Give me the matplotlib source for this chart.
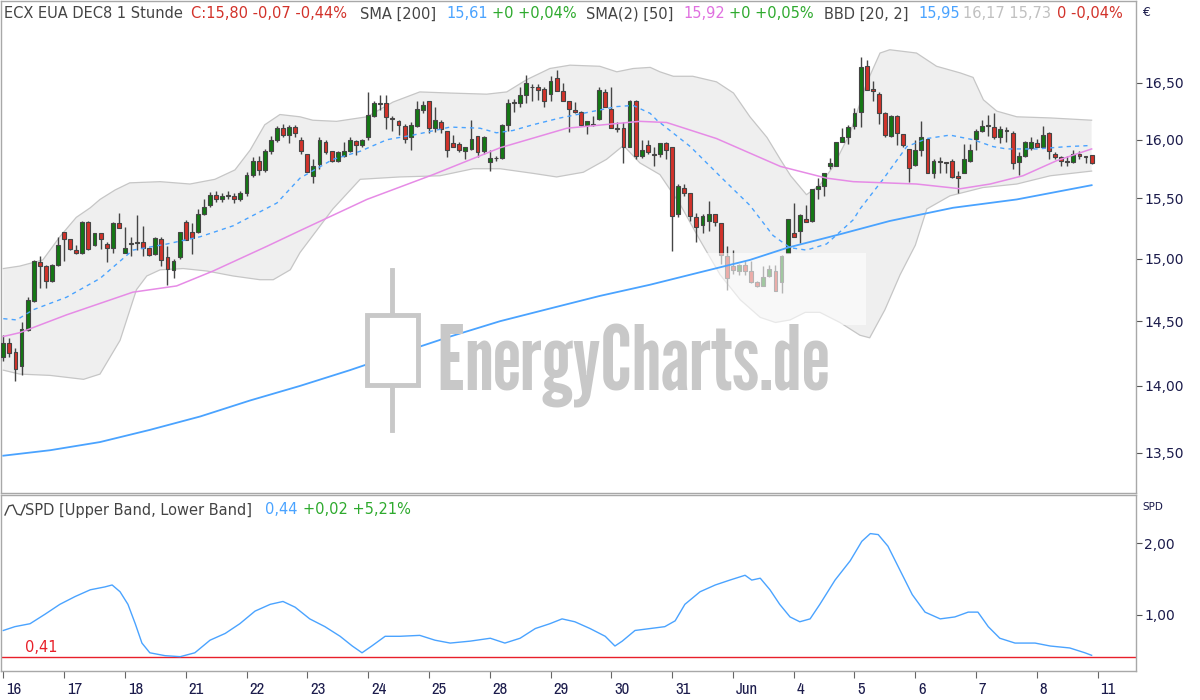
import numpy as np
import matplotlib
matplotlib.use('Agg')
import matplotlib.pyplot as plt
from matplotlib.transforms import ScaledTranslation
from matplotlib.patches import Rectangle
from matplotlib.lines import Line2D
from matplotlib.ticker import FixedLocator, NullLocator, FuncFormatter

# ---------------- data ----------------
day_labels = ['16', '17', '18', '21', '22', '23', '24', '25', '28', '29', '30', '31',
              'Jun', '4', '5', '6', '7', '8', '11']
bars_per_day = 10

opens = [14.22, 14.33, 14.26, 14.15, 14.43, 14.66, 14.97, 14.94, 14.82, 14.95,
         15.22, 15.16, 15.07, 15.05, 15.30, 15.11, 15.21, 15.12, 15.09, 15.29,
         15.05, 15.12, 15.13, 15.14, 15.09, 15.04, 15.16, 15.01, 14.91, 15.01,
         15.30, 15.22, 15.22, 15.37, 15.44, 15.53, 15.49, 15.52, 15.52, 15.49,
         15.54, 15.70, 15.82, 15.74, 15.90, 16.00, 16.10, 16.04, 16.11, 16.00,
         15.88, 15.69, 15.79, 15.98, 15.90, 15.82, 15.86, 15.90, 15.99, 15.95,
         16.02, 16.21, 16.31, 16.32, 16.19, 16.16, 16.12, 16.02, 16.12, 16.26,
         16.34, 16.10, 16.15, 16.08, 15.97, 15.96, 15.90, 15.92, 16.03, 15.90,
         15.81, 15.84, 15.84, 16.13, 16.32, 16.32, 16.39, 16.46, 16.46, 16.45,
         16.40, 16.54, 16.43, 16.34, 16.26, 16.24, 16.13, 16.13, 16.18, 16.42,
         16.27, 16.10, 16.10, 15.94, 16.34, 15.86, 15.95, 15.88, 15.88, 15.97,
         15.94, 15.37, 15.59, 15.54, 15.34, 15.28, 15.31, 15.37, 15.29, 15.02,
         14.94, 14.90, 14.95, 14.90, 14.81, 14.78, 14.86, 14.90, 14.81, 15.05,
         15.21, 15.23, 15.33, 15.31, 15.58, 15.60, 15.77, 15.77, 15.98, 16.02,
         16.12, 16.24, 16.65, 16.45, 16.40, 16.23, 16.03, 16.21, 16.05, 15.92,
         15.78, 15.91, 16.01, 15.71, 15.81, 15.81, 15.82, 15.69, 15.71, 15.82,
         16.01, 16.08, 16.12, 16.11, 16.02, 16.08, 16.06, 15.81, 15.86, 15.93,
         15.97, 15.94, 16.06, 15.88, 15.85, 15.82, 15.81, 15.88, 15.86, 15.87]
highs = [14.39, 14.37, 14.29, 14.49, 14.69, 14.99, 15.02, 14.95, 14.96, 15.18,
         15.22, 15.16, 15.11, 15.31, 15.31, 15.21, 15.21, 15.14, 15.30, 15.38,
         15.26, 15.18, 15.36, 15.27, 15.09, 15.18, 15.18, 15.10, 15.00, 15.22,
         15.32, 15.29, 15.41, 15.49, 15.55, 15.56, 15.54, 15.56, 15.54, 15.56,
         15.72, 15.85, 15.86, 15.92, 16.03, 16.12, 16.14, 16.13, 16.13, 16.02,
         15.88, 15.83, 16.02, 16.00, 15.90, 15.90, 15.98, 16.02, 16.00, 16.01,
         16.42, 16.34, 16.39, 16.39, 16.21, 16.17, 16.14, 16.15, 16.34, 16.34,
         16.34, 16.29, 16.17, 16.08, 16.04, 15.98, 15.94, 16.17, 16.03, 16.03,
         15.91, 15.86, 16.14, 16.36, 16.36, 16.46, 16.57, 16.49, 16.49, 16.46,
         16.56, 16.62, 16.50, 16.34, 16.33, 16.25, 16.16, 16.21, 16.46, 16.45,
         16.46, 16.15, 16.15, 16.35, 16.35, 16.00, 16.00, 15.94, 15.97, 15.98,
         15.94, 15.62, 15.62, 15.54, 15.38, 15.37, 15.48, 15.37, 15.29, 15.10,
         15.07, 14.96, 14.98, 14.98, 14.82, 14.94, 14.95, 14.95, 15.03, 15.33,
         15.46, 15.37, 15.44, 15.58, 15.67, 15.71, 15.84, 15.98, 16.10, 16.13,
         16.28, 16.73, 16.71, 16.52, 16.42, 16.24, 16.22, 16.22, 16.05, 15.92,
         16.00, 16.16, 16.01, 15.83, 15.85, 15.81, 15.83, 15.73, 15.96, 15.96,
         16.09, 16.17, 16.22, 16.23, 16.12, 16.11, 16.08, 15.89, 15.99, 16.02,
         16.01, 16.12, 16.07, 15.89, 15.86, 15.86, 15.91, 15.90, 15.86, 15.87]
lows = [14.19, 14.22, 14.04, 14.08, 14.42, 14.65, 14.76, 14.76, 14.81, 14.94,
        14.98, 15.07, 15.04, 15.04, 15.07, 15.10, 15.08, 14.97, 15.05, 15.25,
        15.05, 15.02, 15.07, 15.02, 15.02, 15.03, 14.94, 14.79, 14.84, 15.00,
        15.15, 15.04, 15.21, 15.36, 15.43, 15.47, 15.47, 15.49, 15.46, 15.48,
        15.52, 15.68, 15.70, 15.72, 15.88, 15.98, 16.02, 15.97, 16.02, 15.88,
        15.72, 15.63, 15.75, 15.88, 15.81, 15.81, 15.85, 15.89, 15.87, 15.94,
        16.00, 16.20, 16.26, 16.09, 16.08, 16.04, 15.97, 15.91, 16.11, 16.23,
        16.06, 16.07, 16.06, 15.85, 15.94, 15.89, 15.83, 15.91, 15.85, 15.88,
        15.73, 15.82, 15.83, 16.08, 16.24, 16.29, 16.32, 16.34, 16.35, 16.29,
        16.34, 16.43, 16.34, 16.07, 16.23, 16.12, 16.05, 16.12, 16.17, 16.29,
        16.10, 16.07, 15.80, 15.94, 15.83, 15.84, 15.88, 15.77, 15.85, 15.83,
        15.06, 15.34, 15.52, 15.31, 15.14, 15.21, 15.23, 15.27, 14.96, 14.75,
        14.88, 14.87, 14.87, 14.80, 14.77, 14.78, 14.85, 14.74, 14.72, 15.05,
        15.18, 15.13, 15.30, 15.30, 15.49, 15.52, 15.75, 15.77, 15.98, 15.96,
        16.09, 16.11, 16.44, 16.34, 16.14, 16.02, 16.02, 15.95, 15.94, 15.64,
        15.77, 15.86, 15.71, 15.67, 15.71, 15.71, 15.67, 15.54, 15.71, 15.81,
        15.91, 16.07, 16.03, 16.01, 15.97, 15.98, 15.75, 15.70, 15.85, 15.91,
        15.94, 15.94, 15.83, 15.83, 15.77, 15.77, 15.80, 15.83, 15.80, 15.79]
closes = [14.33, 14.25, 14.13, 14.44, 14.67, 14.98, 14.94, 14.82, 14.95, 15.11,
          15.16, 15.08, 15.05, 15.30, 15.08, 15.21, 15.16, 15.09, 15.29, 15.25,
          15.09, 15.13, 15.13, 15.09, 15.03, 15.17, 14.99, 14.92, 14.98, 15.22,
          15.15, 15.17, 15.37, 15.43, 15.53, 15.49, 15.52, 15.52, 15.49, 15.54,
          15.70, 15.82, 15.74, 15.90, 16.00, 16.10, 16.04, 16.11, 16.06, 15.90,
          15.72, 15.77, 16.00, 15.89, 15.82, 15.89, 15.90, 16.00, 15.95, 16.00,
          16.22, 16.32, 16.32, 16.20, 16.18, 16.13, 16.01, 16.13, 16.27, 16.30,
          16.10, 16.17, 16.09, 15.91, 15.94, 15.91, 15.94, 16.01, 15.89, 16.02,
          15.84, 15.84, 16.13, 16.32, 16.33, 16.39, 16.50, 16.46, 16.44, 16.34,
          16.52, 16.43, 16.34, 16.27, 16.24, 16.13, 16.16, 16.13, 16.44, 16.29,
          16.10, 16.09, 15.94, 16.34, 15.86, 15.91, 15.89, 15.87, 15.97, 15.91,
          15.35, 15.60, 15.54, 15.35, 15.26, 15.35, 15.37, 15.30, 15.03, 14.84,
          14.91, 14.95, 14.90, 14.81, 14.78, 14.85, 14.92, 14.74, 15.02, 15.33,
          15.18, 15.36, 15.30, 15.58, 15.60, 15.71, 15.80, 15.98, 16.02, 16.11,
          16.23, 16.64, 16.44, 16.43, 16.23, 16.04, 16.21, 16.06, 15.95, 15.76,
          15.91, 16.02, 15.71, 15.82, 15.81, 15.80, 15.68, 15.67, 15.83, 15.91,
          16.08, 16.12, 16.13, 16.02, 16.09, 16.08, 15.80, 15.86, 15.98, 15.98,
          15.94, 16.04, 15.90, 15.85, 15.82, 15.81, 15.88, 15.86, 15.85, 15.80]

bb_up_idx = [0, 2.7, 6.5, 9.3, 12, 14.3, 15.9, 18.4, 20.8, 25.8, 30.7, 34.8, 38.1, 40.6, 43, 45.5,
             48.8, 50.9, 54.8, 59.8, 64.1, 68.5, 73.5, 79.5, 82.8, 86.1, 89.9, 93.2, 98.1, 100.9,
             103.6, 106.4, 108, 110.2, 113.4, 117.3, 120.1, 122.8, 125.6, 127.8, 129.5, 132.1,
             134.3, 136.5, 139.3, 142, 144.2, 145.8, 150.2, 153.5, 157.4, 159.5, 161.2, 163.4,
             166.7, 172.2, 179]
bb_up = [14.92, 14.94, 14.99, 15.18, 15.34, 15.42, 15.49, 15.57, 15.63, 15.64, 15.62, 15.66, 15.74,
         15.91, 16.13, 16.22, 16.20, 16.17, 16.16, 16.20, 16.33, 16.42, 16.41, 16.40, 16.42, 16.53,
         16.63, 16.66, 16.65, 16.60, 16.63, 16.64, 16.60, 16.56, 16.56, 16.51, 16.41, 16.20, 16.02,
         15.83, 15.69, 15.53, 15.61, 15.77, 16.06, 16.50, 16.77, 16.80, 16.77, 16.65, 16.59, 16.55,
         16.35, 16.25, 16.20, 16.19, 16.17]
bb_lo_idx = [0, 2.7, 7.7, 13.2, 15.9, 19.2, 21.9, 23.6, 25.8, 29.6, 33.5, 37.8, 42.2, 44.4, 47.2,
             48.8, 54.2, 58.7, 65.2, 71.8, 77.3, 81.7, 87.2, 91, 95.4, 99.2, 102, 104.7, 108, 111.3,
             114.6, 117.9, 121.2, 124.5, 127, 129.4, 131.9, 134.3, 137.6, 140.9, 142.5, 145, 147.5,
             150, 151.9, 155.7, 161.1, 166.7, 172.2, 179]
bb_lo = [14.12, 14.09, 14.08, 14.05, 14.09, 14.35, 14.75, 14.86, 14.91, 14.92, 14.90, 14.86, 14.83,
         14.83, 14.91, 15.05, 15.41, 15.66, 15.68, 15.69, 15.75, 15.75, 15.71, 15.68, 15.72, 15.83,
         15.95, 15.80, 15.70, 15.45, 15.15, 14.87, 14.67, 14.53, 14.49, 14.51, 14.57, 14.57, 14.49,
         14.39, 14.37, 14.59, 14.87, 15.11, 15.41, 15.52, 15.59, 15.62, 15.69, 15.73]
bb_mid_idx = [0, 2.2, 4.9, 10.4, 15.9, 21.3, 26.9, 32.4, 37.8, 45, 48.8, 54.2, 58.7, 63.1, 67.4,
              73.5, 78.4, 81.1, 83.8, 87.1, 91.6, 98.1, 100.9, 103.6, 106.4, 107.5, 113, 118.4,
              122.8, 126.6, 129.4, 132.1, 135.4, 139.8, 140.9, 144.7, 148.6, 151.9, 155.7, 159.5,
              162.8, 165, 170, 174.9, 179]
bb_mid = [14.52, 14.51, 14.59, 14.69, 14.84, 15.07, 15.12, 15.18, 15.27, 15.46, 15.67, 15.83, 15.90,
          16.00, 16.04, 16.11, 16.10, 16.06, 16.08, 16.13, 16.19, 16.26, 16.29, 16.30, 16.23, 16.17,
          15.94, 15.66, 15.44, 15.19, 15.09, 15.07, 15.12, 15.32, 15.41, 15.66, 15.94, 16.01, 16.04,
          16.00, 15.94, 15.92, 15.92, 15.94, 15.95]
sma50_idx = [0, 2.7, 10.4, 21.3, 28.5, 34.5, 43.3, 48.8, 59.8, 70.7, 81.7, 92.7, 104.7, 109.1, 117.3,
             127.8, 135.4, 139.8, 150.2, 157.4, 162.3, 167.7, 173.3, 179]
sma50 = [14.38, 14.41, 14.55, 14.73, 14.78, 14.90, 15.10, 15.23, 15.49, 15.70, 15.93, 16.10, 16.16,
         16.15, 16.01, 15.77, 15.67, 15.64, 15.62, 15.58, 15.62, 15.69, 15.82, 15.92]
sma200_idx = [0, 7.7, 15.9, 24.1, 32.4, 40.6, 48.8, 57.0, 65.2, 73.5, 81.7, 89.9, 98.1, 106.4, 114.6,
              122.8, 129.0, 137.6, 145.8, 156.2, 166.7, 179]
sma200 = [13.48, 13.52, 13.58, 13.67, 13.77, 13.89, 14.00, 14.12, 14.25, 14.38, 14.50, 14.60, 14.70,
          14.79, 14.89, 14.99, 15.09, 15.20, 15.31, 15.42, 15.49, 15.61]

spd_idx = [0, 1.9, 4.4, 6.9, 9.3, 11.8, 14.3, 16.7, 17.9, 19.2, 20.5, 21.7, 22.8, 24.1, 26.6, 29.1,
           31.5, 34.0, 36.5, 38.9, 41.4, 43.9, 46.0, 48.0, 50.4, 52.9, 55.4, 57.4, 59.0, 60.6, 62.8,
           65.2, 68.5, 71.0, 73.5, 76.8, 80.1, 82.5, 85.0, 87.5, 89.9, 91.9, 94.0, 96.5, 99.0, 100.6,
           101.8, 103.9, 106.4, 108.8, 110.5, 112.1, 114.6, 117.1, 119.5, 122.0, 123.1, 124.5, 126.1,
           127.7, 129.4, 131.0, 132.7, 134.3, 136.8, 139.3, 141.2, 142.6, 143.9, 145.5, 147.5, 149.5,
           151.6, 154.1, 156.5, 158.7, 160.3, 162.0, 163.9, 166.4, 169.7, 172.2, 175.4, 177.9, 179]
spd = [0.785, 0.838, 0.879, 1.013, 1.148, 1.256, 1.350, 1.390, 1.417, 1.323, 1.148, 0.879, 0.610,
       0.475, 0.435, 0.421, 0.475, 0.650, 0.744, 0.879, 1.054, 1.148, 1.188, 1.108, 0.946, 0.838,
       0.704, 0.569, 0.475, 0.569, 0.704, 0.704, 0.717, 0.650, 0.610, 0.637, 0.677, 0.610, 0.677,
       0.812, 0.879, 0.946, 0.906, 0.812, 0.704, 0.569, 0.637, 0.785, 0.812, 0.838, 0.919, 1.148,
       1.323, 1.417, 1.485, 1.552, 1.485, 1.511, 1.350, 1.148, 0.973, 0.906, 0.946, 1.148, 1.485,
       1.754, 2.023, 2.131, 2.117, 1.956, 1.619, 1.283, 1.040, 0.946, 0.973, 1.040, 1.040, 0.838,
       0.677, 0.610, 0.610, 0.569, 0.542, 0.475, 0.44]
spd_ref = 0.41

price_ticks = [13.5, 14.0, 14.5, 15.0, 15.5, 16.0, 16.5]
spd_ticks = [1.0, 2.0]

# ---------------- styling ----------------
W, H = 1200, 700
GREEN = '#147814'
RED = '#d2322a'
EDGE = '#454545'
BLUE = '#4aa3ff'
PINK = '#e68be6'
AXC = '#a8a8a8'
LBL = '#1c1c4c'
DARK = '#444444'

fig = plt.figure(figsize=(12, 7), dpi=100)


def rect(x0, y0, x1, y1):
    return [x0 / W, 1 - y1 / H, (x1 - x0) / W, (y1 - y0) / H]


ax = fig.add_axes(rect(1, 1, 1136, 493))
ax2 = fig.add_axes(rect(1, 495, 1136, 671))

n = len(closes)
x = np.arange(n)
o = np.array(opens)
c = np.array(closes)
h = np.array(highs)
l = np.array(lows)
up = c >= o
bot = np.minimum(o, c)
hei = np.maximum(np.abs(c - o), 0.006)

poly_x = np.r_[bb_up_idx, bb_lo_idx[::-1]]
poly_y = np.r_[bb_up, bb_lo[::-1]]
ax.fill(poly_x, poly_y, color='#efefef', zorder=1, lw=0)
ax.plot(bb_up_idx, bb_up, color='#c6c6c6', lw=0.9, zorder=1.5)
ax.plot(bb_lo_idx, bb_lo, color='#c6c6c6', lw=0.9, zorder=1.5)

ax.vlines(x, l, h, color=EDGE, lw=1.0, zorder=3)
ax.bar(x, hei, bottom=bot, width=0.64, color=np.where(up, GREEN, RED),
       edgecolor=EDGE, linewidth=0.8, zorder=4)

ax.plot(bb_mid_idx, bb_mid, color=BLUE, lw=1.0, ls=(0, (3, 3)), zorder=5)
ax.plot(sma50_idx, sma50, color=PINK, lw=1.1, zorder=5)
ax.plot(sma200_idx, sma200, color=BLUE, lw=1.3, zorder=5)

ax.set_yscale('log')
ax.set_ylim(13.21, 17.25)
ax.set_xlim(-0.38, 186.3)
ax2.set_xlim(-0.38, 186.3)
ax2.set_ylim(0.222, 2.667)

fmt = FuncFormatter(lambda v, p: f'{v:.2f}'.replace('.', ','))
for a, ticks in ((ax, price_ticks), (ax2, spd_ticks)):
    a.yaxis.tick_right()
    a.yaxis.set_major_locator(FixedLocator(ticks))
    a.yaxis.set_minor_locator(NullLocator())
    a.yaxis.set_major_formatter(fmt)
    a.yaxis.set_minor_formatter(FuncFormatter(lambda v, p: ''))
    a.tick_params(axis='y', direction='out', length=4, width=0.8, color='#555555',
                  labelsize=10, labelcolor=LBL, pad=2)
    for s in a.spines.values():
        s.set_color(AXC)
        s.set_linewidth(1.0)
ax.set_xticks([])

ax2.plot(spd_idx, spd, color=BLUE, lw=1.0, zorder=3)
ax2.axhline(spd_ref, color='#e8202a', lw=1.0, zorder=2)
ax2.annotate(f'{spd_ref:.2f}'.replace('.', ','), xy=(3.5, spd_ref), xytext=(0, 2),
             textcoords='offset points', color='#e8202a', fontsize=10.5, va='bottom')

tick_pos = np.arange(len(day_labels)) * bars_per_day
ax2.set_xticks(tick_pos)
ax2.set_xticklabels(day_labels)
ax2.tick_params(axis='x', direction='out', length=5, width=0.8, color='#666666',
                labelsize=12, labelcolor=LBL, pad=3)
off = ScaledTranslation(2 / 72, 0, fig.dpi_scale_trans)
for t in ax2.get_xticklabels():
    t.set_ha('left')
    t.set_family(['Archivo Narrow', 'DejaVu Sans'])
    t.set_transform(t.get_transform() + off)

# watermark
wm = '#c8c8c8'
ax.add_patch(Rectangle((360 / W, 1 - 325 / H), 506 / W, 72 / H, transform=fig.transFigure,
                       facecolor='white', alpha=0.6, lw=0, zorder=4.5, clip_on=False))
ax.add_line(Line2D([392 / W, 392 / W], [1 - 270 / H, 1 - 430 / H], transform=fig.transFigure,
                   color=wm, lw=3.5, zorder=7))
ax.add_patch(Rectangle((367 / W, 1 - 385 / H), 51 / W, 70 / H, transform=fig.transFigure,
                       facecolor='white', edgecolor=wm, lw=3.5, zorder=7.5))
fig.text(633 / W, 1 - 390 / H, 'EnergyCharts.de', fontsize=65, color=wm, ha='center',
         va='baseline', family=['League Gothic', 'DejaVu Sans'], zorder=8)

def seg(xp, yp, s, col, fs=10.5):
    fig.text(xp / W, 1 - yp / H, s, color=col, fontsize=fs, ha='left', va='center',
             family='DejaVu Sans')

hy = 14
seg(4, hy, 'ECX EUA DEC8 1 Stunde', DARK)
seg(191, hy, 'C:15,80 -0,07 -0,44%', RED)
seg(360, hy, 'SMA [200]', DARK)
seg(446, hy, '15,61', BLUE)
seg(492, hy, '+0 +0,04%', '#2eaa2e')
seg(586, hy, 'SMA(2) [50]', DARK)
seg(683, hy, '15,92', '#e070e0')
seg(729, hy, '+0 +0,05%', '#2eaa2e')
seg(824, hy, 'BBD [20, 2]', DARK)
seg(918, hy, '15,95', BLUE)
seg(963, hy, '16,17 15,73', '#c0c0c0')
seg(1057, hy, '0 -0,04%', RED)

ly = 510
fig.add_artist(Line2D(np.array([5, 9, 13, 17, 21, 25]) / W,
                      1 - np.array([515, 506, 505, 514, 515, 505]) / H,
                      transform=fig.transFigure, color=DARK, lw=1.0))
seg(25, ly, 'SPD [Upper Band, Lower Band]', DARK)
seg(265, ly, '0,44', BLUE)
seg(303, ly, '+0,02 +5,21%', '#2eaa2e')

fig.text(1142 / W, 1 - 12 / H, '€', fontsize=9, color=LBL, ha='left', va='center')
fig.text(1142 / W, 1 - 507 / H, 'SPD', fontsize=7.5, color=LBL, ha='left', va='center')

fig.savefig('out.png', dpi=100)
